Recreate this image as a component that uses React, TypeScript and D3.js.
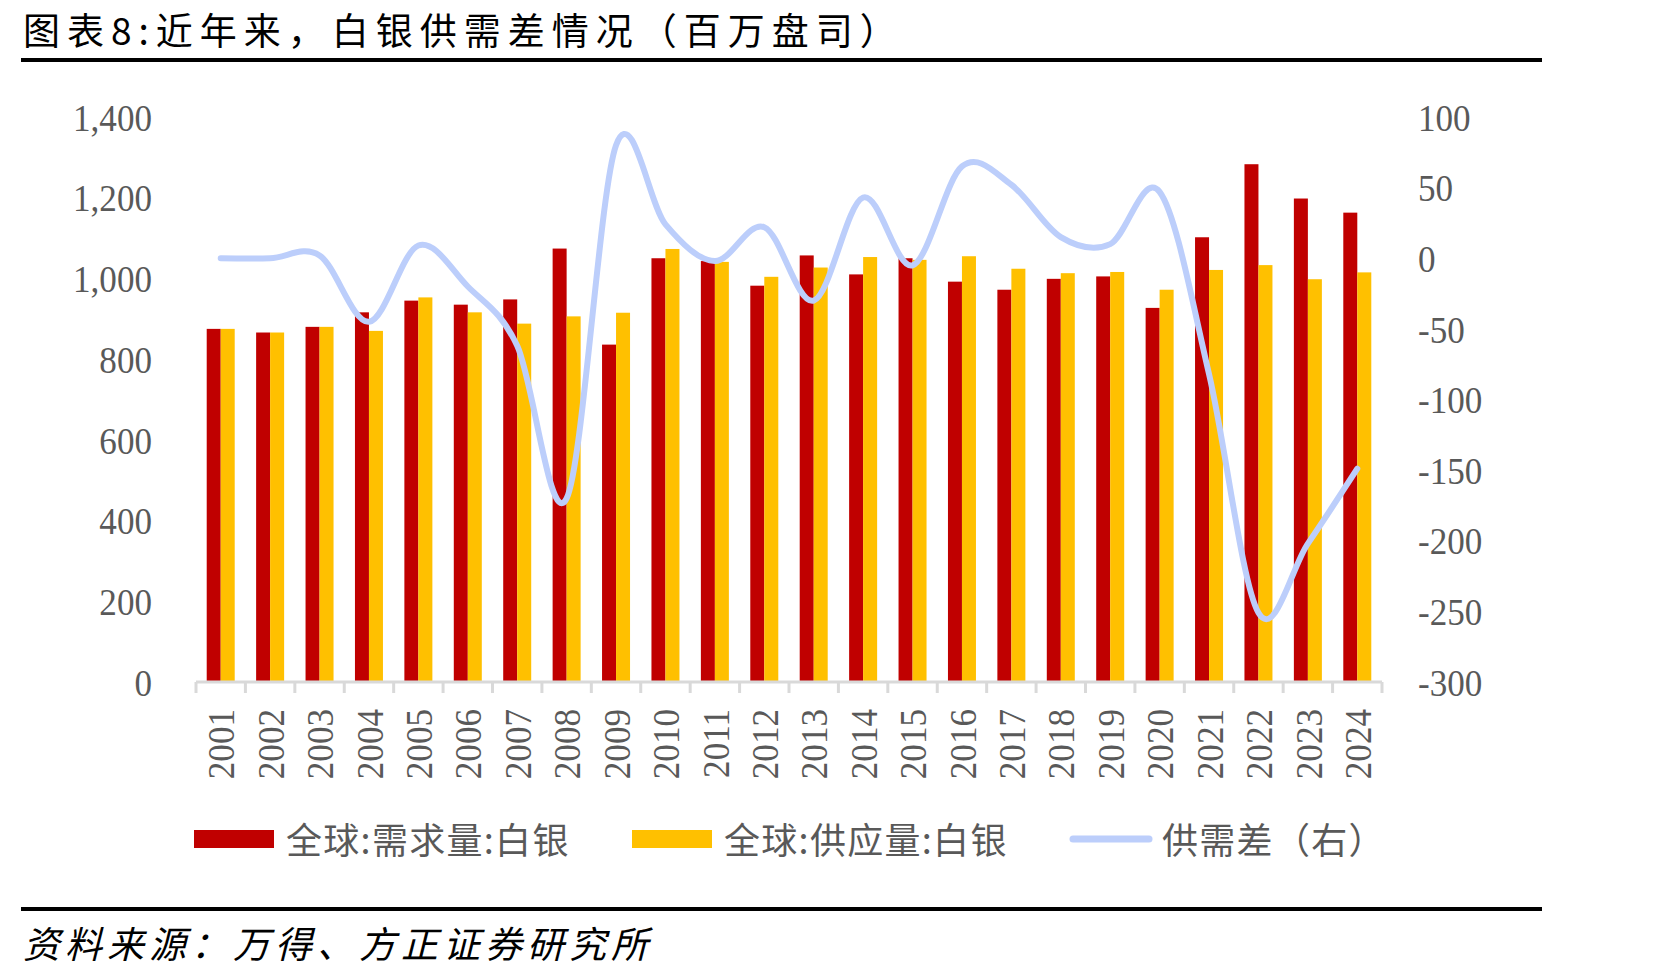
import React from "react";
import * as d3 from "d3";

// 年份与数据（百万盎司）
const years = [
  "2001", "2002", "2003", "2004", "2005", "2006", "2007", "2008",
  "2009", "2010", "2011", "2012", "2013", "2014", "2015", "2016",
  "2017", "2018", "2019", "2020", "2021", "2022", "2023", "2024",
];
const demand = [
  875, 866, 880, 916, 945, 935, 948, 1074, 836, 1050, 1043, 982,
  1057, 1010, 1050, 992, 972, 999, 1005, 927, 1102, 1283, 1198, 1163,
];
const supply = [
  875, 866, 880, 870, 953, 916, 888, 906, 915, 1073, 1041, 1004,
  1027, 1053, 1046, 1055, 1024, 1013, 1016, 972, 1021, 1033, 998, 1015,
];
const gap = [
  0, 0, 2, -45, 9, -20, -62, -170, 80, 24, -2, 22,
  -30, 43, -5, 65, 52, 15, 10, 47, -82, -251, -202, -149,
];
const leftTicks = [0, 200, 400, 600, 800, 1000, 1200, 1400];
const rightTicks = [-300, -250, -200, -150, -100, -50, 0, 50, 100];

const titleText = "图表8:近年来，白银供需差情况（百万盘司）";
const sourceText = "资料来源：万得、方正证券研究所";
const legendItems = [
  { label: "全球:需求量:白银", kind: "rect", color: "#C00000", x: 194 },
  { label: "全球:供应量:白银", kind: "rect", color: "#FFC000", x: 632 },
  { label: "供需差（右）", kind: "line", color: "#BCCEFB", x: 1069 },
];

const W = 1671;
const H = 980;
const m = { left: 196, right: 1382, top: 117, bottom: 682 };
const serif = "'Liberation Serif', 'Times New Roman', serif";
const cjk = "'Noto Sans CJK SC', 'Noto Sans', sans-serif";
const grey = "#595959";

export default function App() {
  const x = d3.scaleBand().domain(years).range([m.left, m.right]).padding(0);
  const y = d3.scaleLinear().domain([0, 1400]).range([m.bottom, m.top]);
  const y2 = d3.scaleLinear().domain([-300, 100]).range([m.bottom, m.top]);
  const barW = 14;
  const cx = (d: string) => (x(d) as number) + x.bandwidth() / 2;
  const fmt = d3.format(",");

  const linePath = d3
    .line<number>()
    .x((_, i) => cx(years[i]))
    .y((d) => y2(d))
    .curve(d3.curveCardinal.tension(0))(gap);

  const tickXs = years.map((d) => x(d) as number).concat([m.right]);

  return (
    <div style={{ position: "fixed", left: 0, top: 0 }}>
      <svg width={W} height={H} style={{ display: "block", background: "#fff" }}>
        {/* title */}
        <text x={23} y={45} fontFamily={cjk} fontSize={37} letterSpacing={7} fill="#000">
          {titleText}
        </text>
        <line x1={21} x2={1542} y1={60} y2={60} stroke="#000" strokeWidth={4} />

        {/* bars */}
        {years.map((yr, i) => (
          <g key={yr}>
            <rect x={cx(yr) - barW} y={y(demand[i])} width={barW} height={m.bottom - y(demand[i])} fill="#C00000" />
            <rect x={cx(yr)} y={y(supply[i])} width={barW} height={m.bottom - y(supply[i])} fill="#FFC000" />
          </g>
        ))}

        {/* x axis */}
        <line x1={m.left} x2={m.right} y1={m.bottom} y2={m.bottom} stroke="#D9D9D9" strokeWidth={3} />
        {tickXs.map((tx, i) => (
          <line key={i} x1={tx} x2={tx} y1={m.bottom} y2={m.bottom + 11} stroke="#D9D9D9" strokeWidth={3} />
        ))}
        {years.map((yr) => (
          <text
            key={yr}
            transform={`translate(${cx(yr)},709) rotate(-90) scale(0.9,1)`}
            textAnchor="end"
            dy="0.35em"
            fontFamily={serif}
            fontSize={39}
            fill={grey}
          >
            {yr}
          </text>
        ))}

        {/* gap line */}
        <path d={linePath ?? ""} fill="none" stroke="#BCCEFB" strokeWidth={6} strokeLinecap="round" strokeLinejoin="round" />

        {/* left axis */}
        {leftTicks.map((t) => (
          <text
            key={t}
            transform={`translate(152,${y(t)}) scale(0.9,1)`}
            textAnchor="end"
            dy="0.35em"
            fontFamily={serif}
            fontSize={39}
            fill={grey}
          >
            {fmt(t)}
          </text>
        ))}

        {/* right axis */}
        {rightTicks.map((t) => (
          <text
            key={t}
            transform={`translate(1418,${y2(t)}) scale(0.9,1)`}
            textAnchor="start"
            dy="0.35em"
            fontFamily={serif}
            fontSize={39}
            fill={grey}
          >
            {t}
          </text>
        ))}

        {/* legend */}
        {legendItems.map((it) => (
          <g key={it.label}>
            {it.kind === "rect" ? (
              <rect x={it.x} y={830} width={80} height={18} fill={it.color} />
            ) : (
              <line x1={it.x + 4} x2={it.x + 80} y1={839} y2={839} stroke={it.color} strokeWidth={7} strokeLinecap="round" />
            )}
            <text
              x={it.x + (it.kind === "rect" ? 92 : 93)}
              y={841}
              dy="0.36em"
              fontFamily={cjk}
              fontSize={36}
              letterSpacing={1.3}
              fill={grey}
            >
              {it.label}
            </text>
          </g>
        ))}

        {/* source */}
        <line x1={21} x2={1542} y1={909} y2={909} stroke="#000" strokeWidth={4} />
        <text x={23} y={958} fontFamily={cjk} fontSize={37} fontStyle="italic" letterSpacing={5} fill="#000">
          {sourceText}
        </text>
      </svg>
    </div>
  );
}
